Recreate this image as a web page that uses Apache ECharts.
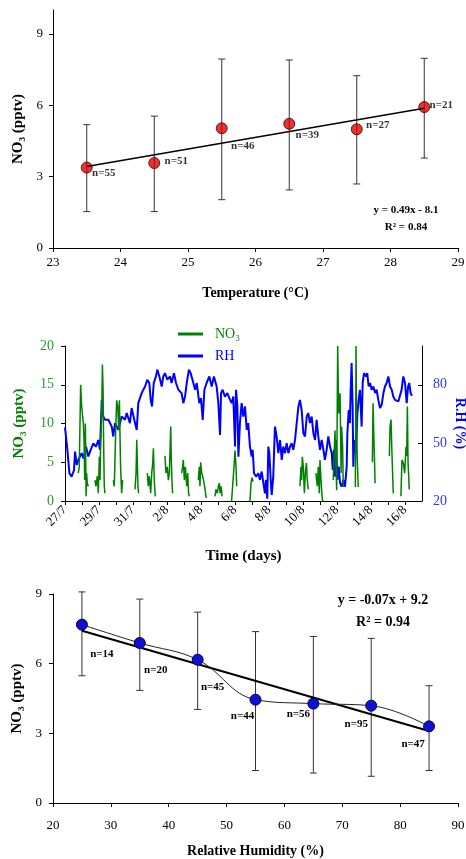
<!DOCTYPE html>
<html>
<head>
<meta charset="utf-8">
<script src="https://cdn.jsdelivr.net/npm/echarts@6/dist/echarts.min.js"></script>
<style>
html,body{margin:0;padding:0;background:#fff;}
#main{width:466px;height:859px;}
</style>
</head>
<body>
<div id="main"></div>
<script>
// panel 1 : NO3 vs temperature
var tempX = [23.5, 24.5, 25.5, 26.5, 27.5, 28.5];
var tempNO3 = [3.38, 3.57, 5.03, 5.22, 4.99, 5.92];
var tempLow = [1.53, 1.53, 2.03, 2.44, 2.69, 3.78];
var tempHigh = [5.18, 5.54, 7.94, 7.90, 7.24, 7.97];
var tempN = ['n=55', 'n=51', 'n=46', 'n=39', 'n=27', 'n=21'];
var tempFit = [[23.5, 3.42], [28.5, 5.87]];

// panel 3 : NO3 vs relative humidity
var rhX = [25, 35, 45, 55, 65, 75, 85];
var rhNO3 = [7.68, 6.89, 6.17, 4.45, 4.28, 4.19, 3.30];
var rhLow = [5.48, 4.85, 4.03, 1.40, 1.29, 1.15, 1.40];
var rhHigh = [9.09, 8.78, 8.22, 7.38, 7.17, 7.09, 5.05];
var rhN = ['n=14', 'n=20', 'n=45', 'n=44', 'n=56', 'n=95', 'n=47'];
var rhFit = [[25, 7.42], [85, 3.10]];

// panel 2 : time series, x = days since 27/7
var dayLabels = ['27/7', '29/7', '31/7', '2/8', '4/8', '6/8', '8/8', '10/8', '12/8', '14/8', '16/8'];
var rhSeries = [
  [0.0, 58], [0.06, 57.6], [0.14, 46.4], [0.26, 34.3], [0.39, 32.6], [0.53, 36], [0.59, 45.5], [0.69, 38.6],
  [0.78, 41.2], [0.88, 43], [0.98, 44.7], [1.08, 42], [1.24, 48], [1.37, 43], [1.51, 46.4], [1.67, 49.8],
  [1.82, 48], [1.96, 51.5], [2.06, 46.4], [2.16, 72.2], [2.25, 63.6], [2.35, 61.9], [2.55, 61.9], [2.75, 58.4],
  [2.84, 53.3], [2.94, 60.2], [3.14, 56.7], [3.33, 63.6], [3.53, 61.9], [3.63, 65.4], [3.82, 60.2], [3.92, 68],
  [4.12, 60.2], [4.22, 56.7], [4.31, 70.5], [4.51, 75.7], [4.71, 79.1], [4.84, 82.6], [4.96, 80.9], [5.04, 72.2],
  [5.12, 68.8], [5.22, 80.9], [5.35, 84.3], [5.43, 87.8], [5.55, 84.3], [5.69, 79.1], [5.78, 84.3], [5.88, 86],
  [6.02, 82.6], [6.18, 84.3], [6.27, 80.9], [6.41, 86], [6.53, 80.9], [6.67, 77.4], [6.86, 75.7], [6.96, 70.5],
  [7.06, 73.9], [7.16, 80.9], [7.29, 87.8], [7.39, 86], [7.55, 80.9], [7.65, 77.4], [7.75, 80.9], [7.90, 70.5],
  [8.0, 73.1], [8.10, 61.9], [8.20, 77.4], [8.33, 80.9], [8.49, 84.3], [8.63, 79.1], [8.76, 84.3], [8.92, 79.1],
  [9.02, 70.5], [9.12, 54.1], [9.18, 75.7], [9.27, 77.4], [9.41, 73.9], [9.55, 75.7], [9.71, 72.2], [9.80, 70.5],
  [9.90, 73.9], [10.0, 48.1], [10.06, 77.4], [10.14, 68.8], [10.20, 42.9], [10.29, 60.2], [10.39, 70.5], [10.49, 63.6],
  [10.59, 68.8], [10.69, 56.7], [10.78, 60.2], [10.88, 48.1], [10.98, 42.9], [11.04, 46.4], [11.12, 34.3], [11.24, 32.6],
  [11.37, 34.3], [11.47, 30.9], [11.57, 35.2], [11.67, 29.2], [11.76, 24], [11.82, 30.9], [11.90, 21.2], [11.96, 48.1],
  [12.02, 44.7], [12.10, 30.9], [12.16, 23.1], [12.25, 32.6], [12.35, 58.4], [12.45, 53.3], [12.55, 44.7], [12.65, 51.5],
  [12.75, 41.2], [12.84, 48.1], [12.94, 44.7], [13.04, 49.8], [13.14, 44.7], [13.24, 48.1], [13.33, 49.8], [13.43, 46.4],
  [13.53, 51.5], [13.63, 60.2], [13.73, 68.8], [13.82, 72.2], [13.92, 67], [14.02, 55], [14.12, 53.3], [14.22, 63.6],
  [14.31, 65.4], [14.41, 60.2], [14.51, 63.6], [14.61, 55], [14.71, 51.5], [14.80, 61.9], [14.90, 53.3], [15.0, 46.4],
  [15.10, 51.5], [15.20, 46.4], [15.29, 41.2], [15.39, 46.4], [15.49, 53.3], [15.59, 48.1], [15.69, 44.7], [15.75, 36],
  [15.82, 46.4], [15.88, 32.6], [15.94, 51.5], [16.02, 30.9], [16.10, 37.7], [16.18, 29.2], [16.27, 27.4], [16.37, 30.9],
  [16.47, 27.4], [16.57, 37.7], [16.61, 55], [16.69, 67], [16.76, 60.2], [16.80, 75.7], [16.86, 91.2], [16.92, 68.8],
  [16.96, 37.7], [17.02, 51.5], [17.12, 44.7], [17.20, 65.4], [17.27, 72.2], [17.35, 77.4], [17.45, 58.4], [17.51, 80.9],
  [17.59, 86], [17.71, 84.3], [17.78, 86], [17.86, 79.1], [17.94, 80.9], [18.04, 77.4], [18.14, 79.1], [18.24, 75.7],
  [18.33, 77.4], [18.43, 72.2], [18.53, 68], [18.63, 69.7], [18.73, 75.7], [18.82, 79.1], [18.92, 80.9], [19.02, 84.3],
  [19.12, 79.1], [19.22, 77.4], [19.31, 73.9], [19.41, 72.2], [19.51, 73.1], [19.61, 71.4], [19.71, 72.2], [19.80, 77.4],
  [19.90, 84.3], [20.0, 80.9], [20.10, 70.5], [20.18, 79.1], [20.25, 80.9], [20.33, 75.7], [20.41, 74.3]
];
// NO3 only measured at night, gaps = null
var no3Series = [
  [0.78, 3.6], [0.84, 4.4], [0.92, 15], [0.98, 12.2], [1.04, 12.4], [1.08, 10], [1.12, 7.9], [1.16, 2.7], [1.20, 10],
  [1.24, 0.6], [1.27, 3.6], [1.31, 2.3], [1.37, 1.9], [1.5, null],
  [1.76, 2.7], [1.82, 1.9], [1.90, 3.2], [1.96, 1.0], [2.02, 5.7], [2.06, 2.7], [2.10, 7.9], [2.16, 11.3], [2.20, 17.6],
  [2.24, 14.3], [2.27, 7.9], [2.31, 1.9], [2.35, 1.0], [2.5, null],
  [2.84, 2.7], [2.90, 1.9], [2.98, 8.8], [3.04, 13], [3.10, 12.2], [3.16, 9.2], [3.20, 13], [3.24, 7.9], [3.27, 4.4],
  [3.33, 1.0], [3.39, 2.7], [3.6, null],
  [4.12, 1.5], [4.18, 3.6], [4.22, 7.9], [4.25, 7.7], [4.29, 1.9], [4.33, 1.0], [4.5, null],
  [4.84, 3.6], [4.90, 1.9], [4.96, 3.2], [5.04, 1.0], [5.10, 3.6], [5.16, 4.9], [5.20, 6.8], [5.25, 2.7], [5.31, 0.6], [5.5, null],
  [5.88, 5.8], [5.94, 3.6], [6.02, 4.4], [6.08, 2.7], [6.14, 3.6], [6.22, 9.6], [6.25, 5.7], [6.29, 2.7], [6.33, 1.0], [6.5, null],
  [6.86, 3.6], [6.92, 4.4], [6.96, 5.3], [7.02, 2.7], [7.08, 4.4], [7.16, 1.9], [7.22, 3.6], [7.27, 1.0], [7.31, 0.6], [7.5, null],
  [7.84, 2.7], [7.90, 4.4], [7.94, 1.9], [7.98, 5.0], [8.04, 3.6], [8.10, 3.2], [8.18, 2.3], [8.24, 1.5], [8.29, 0.6], [8.33, 0.4], [8.5, null],
  [8.82, 0.6], [8.88, 1.5], [8.96, 1.0], [9.02, 1.9], [9.08, 2.3], [9.12, 1.0], [9.18, 1.9], [9.24, 0.6], [9.5, null],
  [9.80, 0], [9.86, 1.9], [9.94, 4.4], [10.0, 6.5], [10.06, 4.4], [10.10, 1.9], [10.5, null],
  [10.88, 0], [10.94, 2.3], [11.0, 3.0], [11.06, 2.5], [11.5, null],
  [13.82, 1.9], [13.88, 4.4], [13.92, 2.7], [13.96, 5.7], [14.02, 4.4], [14.08, 1.0], [14.14, 3.6], [14.20, 4.9],
  [14.25, 2.7], [14.31, 1.5], [14.5, null],
  [14.76, 3.6], [14.84, 1.9], [14.90, 4.4], [14.96, 1.0], [15.0, 5.3], [15.06, 2.7], [15.12, 0.6], [15.16, 0], [15.5, null],
  [15.78, 2.7], [15.88, 9.1], [15.98, 1.4], [16.04, 20], [16.10, 11.3], [16.18, 13.9], [16.24, 3.6], [16.27, 9.6],
  [16.33, 7.0], [16.37, 1.8], [16.6, null],
  [17.08, 1.8], [17.12, 20], [17.16, 8], [17.20, 4.8], [17.25, 1.8], [17.6, null],
  [18.08, 5], [18.12, 12.6], [18.16, 8.8], [18.20, 5.8], [18.24, 2.3], [18.6, null],
  [19.08, 5.8], [19.12, 9.6], [19.18, 10.5], [19.22, 7.0], [19.27, 3.6], [19.31, 1.0], [19.5, null],
  [19.76, 0.6], [19.82, 5.3], [19.90, 4.9], [19.98, 3.6], [20.06, 7.0], [20.10, 5.8], [20.14, 12.2], [20.18, 4.9],
  [20.22, 3.2], [20.25, 1.5]
];

var tempLabelOffset = [[17, 6], [22, -2], [21, 18], [18, 11], [21, -4], [17, -2]];
var rhLabelOffset = [[20, 30], [16, 27], [15, 27], [-13, 16], [-15, 11], [-15, 18], [-16, 18]];

var serif = 'Liberation Serif';
var green = '#008000', blue = '#0000ff';

var myChart = echarts.init(document.getElementById('main'));

function errorBars(xs, lo, hi) {
  var d = [];
  for (var i = 0; i < xs.length; i++) d.push([xs[i], lo[i], hi[i]]);
  return d;
}
function renderBar(params, api) {
  var top = api.coord([api.value(0), api.value(2)]);
  var bot = api.coord([api.value(0), api.value(1)]);
  var w = 3.5;
  var st = {stroke: '#333', lineWidth: 1};
  return {type: 'group', children: [
    {type: 'line', shape: {x1: top[0], y1: top[1], x2: bot[0], y2: bot[1]}, style: st},
    {type: 'line', shape: {x1: top[0] - w, y1: top[1], x2: top[0] + w, y2: top[1]}, style: st},
    {type: 'line', shape: {x1: bot[0] - w, y1: bot[1], x2: bot[0] + w, y2: bot[1]}, style: st}
  ]};
}
function points(xs, ys, offsets) {
  var d = [];
  for (var i = 0; i < xs.length; i++) d.push({value: [xs[i], ys[i]], label: {offset: offsets[i]}});
  return d;
}

var axisLine = {show: true, lineStyle: {color: '#000', width: 1}};
var tick = {show: true, length: 4, lineStyle: {color: '#000'}};
var lbl = {color: '#000', fontFamily: serif, fontSize: 13};
var ttl = {color: '#000', fontFamily: serif, fontSize: 14, fontWeight: 'bold'};
var ttlY = {color: '#000', fontFamily: serif, fontSize: 15, fontWeight: 'bold'};

var option = {
  animation: false,
  grid: [
    {left: 53, top: 10, width: 405, height: 238, outerBoundsMode: 'none'},
    {left: 65, top: 346, width: 357, height: 155, outerBoundsMode: 'none'},
    {left: 53, top: 594, width: 405, height: 209, outerBoundsMode: 'none'}
  ],
  legend: {
    data: [{name: 'NO₃', textStyle: {color: green}}, {name: 'RH', textStyle: {color: blue}}],
    orient: 'vertical', left: 173, top: 322, itemWidth: 25, itemHeight: 3, itemGap: 8, icon: 'rect',
    textStyle: {fontFamily: serif, fontSize: 14, padding: [0, 0, 0, 7]}
  },
  xAxis: [
    {gridIndex: 0, type: 'value', min: 23, max: 29, interval: 1, splitLine: {show: false},
      axisLine: axisLine, axisTick: tick, axisLabel: Object.assign({margin: 8}, lbl),
      name: 'Temperature (°C)', nameLocation: 'middle', nameGap: 38, nameTextStyle: ttl},
    {gridIndex: 1, type: 'value', min: 0, max: 21, interval: 1, splitLine: {show: false},
      axisLine: axisLine, axisTick: tick,
      axisLabel: {margin: 7, rotate: 45, showMaxLabel: false, fontSize: 13, color: '#000', fontFamily: serif,
        formatter: function (v) { return (v % 2 === 0 && v <= 20) ? dayLabels[v / 2] : ''; }},
      name: 'Time (days)', nameLocation: 'middle', nameGap: 48, nameTextStyle: Object.assign({}, ttl, {fontSize: 15})},
    {gridIndex: 2, type: 'value', min: 20, max: 90, interval: 10, splitLine: {show: false},
      axisLine: axisLine, axisTick: tick, axisLabel: Object.assign({margin: 16}, lbl),
      name: 'Relative Humidity (%)', nameLocation: 'middle', nameGap: 41, nameTextStyle: ttl}
  ],
  yAxis: [
    {gridIndex: 0, type: 'value', min: 0, max: 10, interval: 3, splitLine: {show: false},
      axisLine: axisLine, axisTick: tick, axisLabel: Object.assign({margin: 10, showMaxLabel: false}, lbl),
      name: 'NO₃ (pptv)', nameLocation: 'middle', nameGap: 27, nameTextStyle: ttlY},
    {gridIndex: 1, type: 'value', position: 'left', min: 0, max: 20, interval: 5, splitLine: {show: false},
      axisLine: axisLine, axisTick: tick,
      axisLabel: {margin: 11, color: '#2e9a2e', fontFamily: serif, fontSize: 14},
      name: 'NO₃ (pptv)', nameLocation: 'middle', nameGap: 38,
      nameTextStyle: {color: green, fontFamily: serif, fontSize: 15, fontWeight: 'bold'}},
    {gridIndex: 1, type: 'value', position: 'right', min: 20, max: 100, interval: 30, splitLine: {show: false},
      axisLine: axisLine, axisTick: {show: true, inside: true, length: 4, lineStyle: {color: '#000'}},
      axisLabel: {margin: 11, color: '#3333ff', fontFamily: serif, fontSize: 14, showMaxLabel: false},
      name: 'R.H (%)', nameLocation: 'middle', nameGap: 31, nameRotate: -90, nameMoveOverlap: false,
      nameTextStyle: {color: blue, fontFamily: serif, fontSize: 14, fontWeight: 'bold'}},
    {gridIndex: 2, type: 'value', min: 0, max: 9, interval: 3, splitLine: {show: false},
      axisLine: axisLine, axisTick: tick, axisLabel: Object.assign({margin: 11}, lbl),
      name: 'NO₃ (pptv)', nameLocation: 'middle', nameGap: 27, nameTextStyle: ttlY}
  ],
  series: [
    {type: 'custom', xAxisIndex: 0, yAxisIndex: 0, renderItem: renderBar, clip: false,
      encode: {x: 0, y: [1, 2]}, data: errorBars(tempX, tempLow, tempHigh), silent: true},
    {type: 'line', xAxisIndex: 0, yAxisIndex: 0, data: tempFit, symbol: 'none',
      lineStyle: {color: '#000', width: 1.5}},
    {type: 'scatter', xAxisIndex: 0, yAxisIndex: 0, symbolSize: 11,
      itemStyle: {color: '#e00000', borderColor: '#3a0000', borderWidth: 1},
      data: points(tempX, tempNO3, tempLabelOffset),
      label: {show: true, position: 'inside', color: '#000', fontFamily: serif, fontWeight: 'bold', fontSize: 11,
        formatter: function (p) { return tempN[p.dataIndex]; }}},
    {name: 'RH', type: 'line', xAxisIndex: 1, yAxisIndex: 2, data: rhSeries, symbol: 'none',
      lineStyle: {color: blue, width: 2}, itemStyle: {color: blue}},
    {name: 'NO₃', type: 'line', xAxisIndex: 1, yAxisIndex: 1, data: no3Series, symbol: 'none',
      connectNulls: false, lineStyle: {color: green, width: 1.5}, itemStyle: {color: green}},
    {type: 'custom', xAxisIndex: 2, yAxisIndex: 3, renderItem: renderBar, clip: false,
      encode: {x: 0, y: [1, 2]}, data: errorBars(rhX, rhLow, rhHigh), silent: true},
    {type: 'line', xAxisIndex: 2, yAxisIndex: 3, data: rhFit, symbol: 'none',
      lineStyle: {color: '#000', width: 2}},
    {type: 'line', xAxisIndex: 2, yAxisIndex: 3, smooth: 0.4, symbol: 'circle', symbolSize: 11,
      lineStyle: {color: '#222', width: 1},
      itemStyle: {color: '#1010d0', borderColor: '#000040', borderWidth: 1},
      data: points(rhX, rhNO3, rhLabelOffset),
      label: {show: true, position: 'inside', color: '#000', fontFamily: serif, fontWeight: 'bold', fontSize: 11,
        formatter: function (p) { return rhN[p.dataIndex]; }}}
  ],
  graphic: [
    {type: 'text', x: 406, y: 210, style: {text: 'y = 0.49x - 8.1', align: 'center', verticalAlign: 'middle',
      fontFamily: serif, fontWeight: 'bold', fontSize: 11, fill: '#000'}},
    {type: 'text', x: 406, y: 227, style: {text: 'R² = 0.84', align: 'center', verticalAlign: 'middle',
      fontFamily: serif, fontWeight: 'bold', fontSize: 11, fill: '#000'}},
    {type: 'text', x: 383, y: 600, style: {text: 'y = -0.07x + 9.2', align: 'center', verticalAlign: 'middle',
      fontFamily: serif, fontWeight: 'bold', fontSize: 14, fill: '#000'}},
    {type: 'text', x: 383, y: 622, style: {text: 'R² = 0.94', align: 'center', verticalAlign: 'middle',
      fontFamily: serif, fontWeight: 'bold', fontSize: 14, fill: '#000'}}
  ]
};
myChart.setOption(option);
</script>
</body>
</html>
